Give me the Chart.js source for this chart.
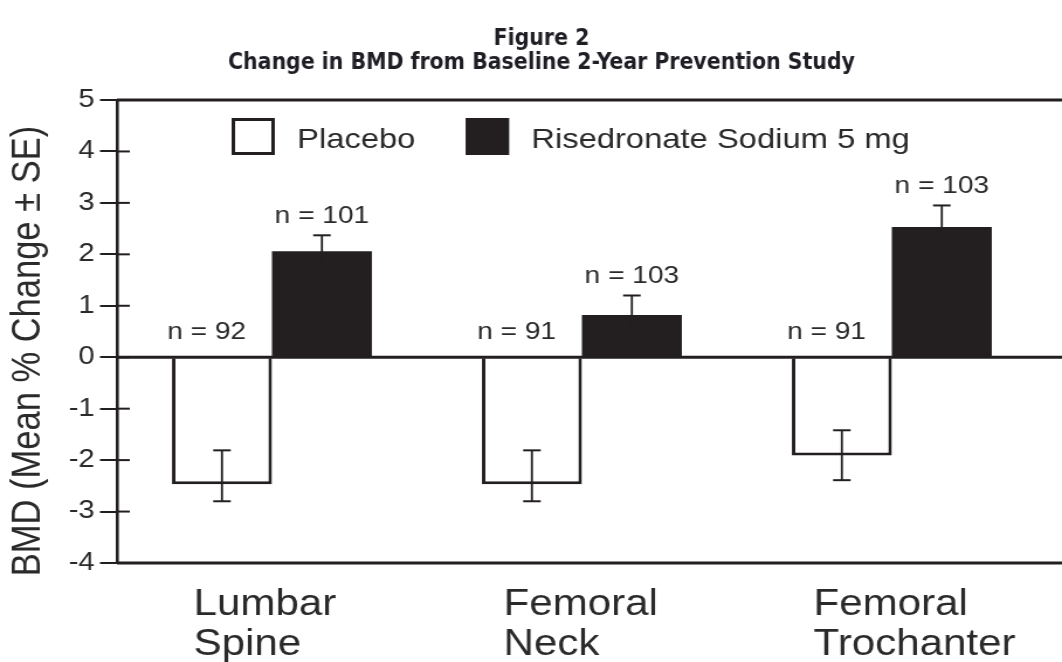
<!DOCTYPE html>
<html>
<head>
<meta charset="utf-8">
<script src="https://cdn.jsdelivr.net/npm/chart.js@4.4.1/dist/chart.umd.min.js"></script>
<style>
  html, body { margin: 0; padding: 0; background: #fff; }
  /* the original scan is stretched sideways, so the canvas is too */
  #chart { display: block; width: 1062px !important; height: 662px !important; }
</style>
</head>
<body>
<canvas id="chart" width="908" height="662" style="width:1062px;height:662px"></canvas>
<script>
const categories = [['Lumbar', 'Spine'], ['Femoral', 'Neck'], ['Femoral', 'Trochanter']];
const seriesNames = ['Placebo', 'Risedronate Sodium 5 mg'];

const placeboMean = [-2.47, -2.47, -1.91];
const placeboSeLow = [-2.80, -2.80, -2.39];
const placeboSeHigh = [-1.81, -1.81, -1.42];
const placeboN = [92, 91, 91];

const risedronateMean = [2.06, 0.82, 2.53];
const risedronateSeLow = [1.75, 0.44, 2.11];
const risedronateSeHigh = [2.37, 1.20, 2.95];
const risedronateN = [101, 103, 103];

const yMin = -4;
const yMax = 5;

const titleLines = ['Figure 2', 'Change in BMD from Baseline 2-Year Prevention Study'];
const yTitle = 'BMD (Mean % Change \u00b1 SE)';

const ink = '#231f20';
const textInk = '#2a2a2a';
const sans = "'Liberation Sans', Arial, sans-serif";

const decor = {
  id: 'decor',
  afterDatasetsDraw(chart) {
    const {ctx, chartArea, scales: {x, y}} = chart;
    ctx.save();
    ctx.strokeStyle = ink;

    // top, zero and bottom rules run to the right edge
    ctx.lineWidth = 3;
    [yMax, 0, yMin].forEach(v => {
      const py = y.getPixelForValue(v);
      ctx.beginPath();
      ctx.moveTo(chartArea.left, py);
      ctx.lineTo(chart.width, py);
      ctx.stroke();
    });

    // tick marks also poke inside the axis
    ctx.lineWidth = 2;
    y.ticks.forEach(t => {
      const py = y.getPixelForValue(t.value);
      ctx.beginPath();
      ctx.moveTo(chartArea.left, py);
      ctx.lineTo(chartArea.left + 11, py);
      ctx.stroke();
    });

    // error bars + n labels
    chart.data.datasets.forEach((ds, i) => {
      chart.getDatasetMeta(i).data.forEach((bar, j) => {
        const lo = y.getPixelForValue(ds.seLow[j]);
        const hi = y.getPixelForValue(ds.seHigh[j]);
        ctx.lineWidth = 1.8;
        ctx.beginPath();
        ctx.moveTo(bar.x, lo);
        ctx.lineTo(bar.x, hi);
        ctx.stroke();
        ctx.lineWidth = 2;
        [lo, hi].forEach(py => {
          ctx.beginPath();
          ctx.moveTo(bar.x - 7.5, py);
          ctx.lineTo(bar.x + 7.5, py);
          ctx.stroke();
        });

        ctx.fillStyle = textInk;
        ctx.font = '24px ' + sans;
        ctx.textAlign = 'center';
        ctx.textBaseline = 'alphabetic';
        const txt = 'n = ' + ds.counts[j];
        if (ds.data[j] >= 0) {
          ctx.fillText(txt, bar.x, hi - 12);
        } else {
          ctx.fillText(txt, bar.x - 13, y.getPixelForValue(0) - 18);
        }
      });
    });

    // category labels, left aligned in two lines
    ctx.fillStyle = textInk;
    ctx.font = '36px ' + sans;
    ctx.textAlign = 'left';
    chart.data.labels.forEach((lab, j) => {
      const cx = x.getPixelForValue(j) - 67;
      lab.forEach((line, k) => ctx.fillText(line, cx, chartArea.bottom + 52 + k * 40));
    });

    // legend inside the plot
    ctx.font = '28px ' + sans;
    let lx = 198;
    chart.data.datasets.forEach((ds, i) => {
      ctx.fillStyle = ds.backgroundColor;
      ctx.fillRect(lx, 118, 37, 37);
      ctx.lineWidth = 3;
      ctx.strokeStyle = ink;
      ctx.strokeRect(lx + 1.5, 119.5, 34, 34);
      ctx.fillStyle = textInk;
      ctx.fillText(ds.label, lx + 56, 148);
      lx += 56 + ctx.measureText(ds.label).width + 43;
    });

    // y axis title, sitting a bit low like the original
    ctx.save();
    ctx.translate(24, 351);
    ctx.rotate(-Math.PI / 2);
    ctx.textAlign = 'center';
    ctx.textBaseline = 'middle';
    ctx.font = '34.5px ' + sans;
    ctx.fillStyle = textInk;
    ctx.fillText(yTitle, 0, 0);
    ctx.restore();

    // title in a squeezed bold face
    ctx.fillStyle = '#1e1e24';
    ctx.textAlign = 'center';
    ctx.font = "bold 23px 'DejaVu Sans Condensed', 'Liberation Sans', sans-serif";
    const sx = 536 / ctx.measureText(titleLines[1]).width;
    titleLines.forEach((line, k) => {
      ctx.save();
      ctx.translate(463, 45 + k * 24);
      ctx.scale(sx, 1);
      ctx.fillText(line, 0, 0);
      ctx.restore();
    });
    ctx.restore();
  }
};

new Chart(document.getElementById('chart'), {
  type: 'bar',
  data: {
    labels: categories,
    datasets: [
      {
        label: seriesNames[0],
        data: placeboMean,
        seLow: placeboSeLow,
        seHigh: placeboSeHigh,
        counts: placeboN,
        backgroundColor: '#ffffff',
        borderColor: ink,
        borderWidth: 3
      },
      {
        label: seriesNames[1],
        data: risedronateMean,
        seLow: risedronateSeLow,
        seHigh: risedronateSeHigh,
        counts: risedronateN,
        backgroundColor: ink,
        borderColor: ink,
        borderWidth: 0
      }
    ]
  },
  options: {
    responsive: false,
    devicePixelRatio: 1,
    animation: false,
    events: [],
    layout: { padding: { left: 0, right: 13, top: 100, bottom: 99 } },
    datasets: { bar: { categoryPercentage: 0.645, barPercentage: 1 } },
    plugins: { legend: { display: false }, title: { display: false }, tooltip: { enabled: false } },
    scales: {
      x: { display: false },
      y: {
        min: yMin,
        max: yMax,
        afterFit(scale) { scale.width = 100; },
        ticks: { stepSize: 1, color: textInk, padding: 4.5, font: { family: sans, size: 25 } },
        grid: { drawOnChartArea: false, tickLength: 14.5, color: ink, lineWidth: 2 },
        border: { color: ink, width: 2.6 },
        title: { display: false }
      }
    }
  },
  plugins: [decor]
});
</script>
</body>
</html>
